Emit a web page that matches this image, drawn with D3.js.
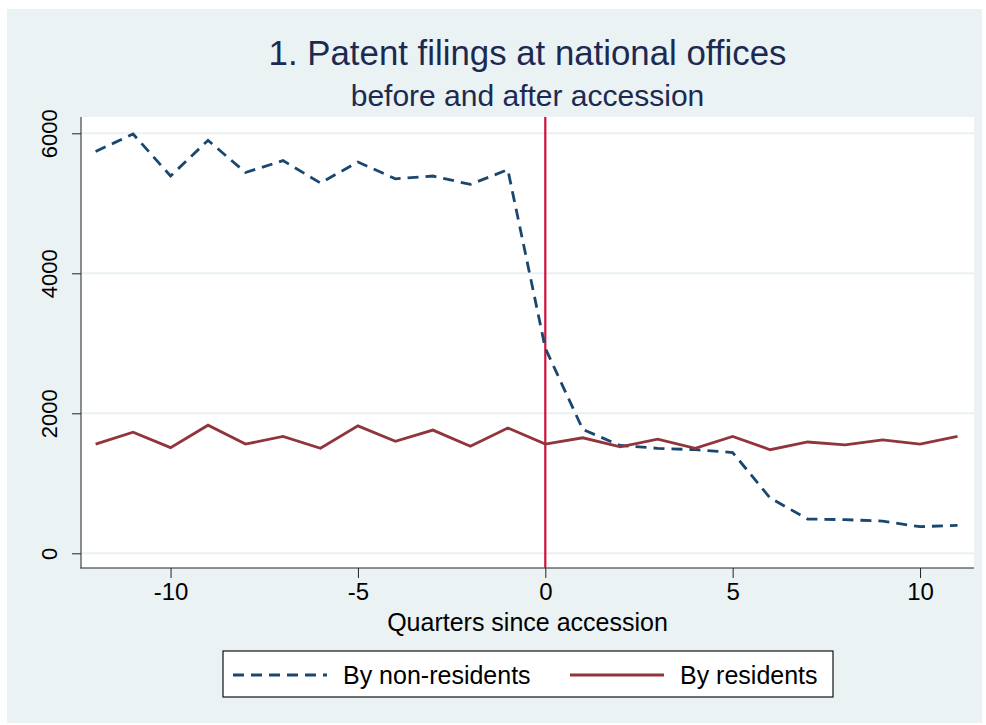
<!DOCTYPE html>
<html>
<head>
<meta charset="utf-8">
<script src="https://cdn.jsdelivr.net/npm/d3@7"></script>
<style>
  body { margin: 0; background: #fff; }
  text { font-family: "Liberation Sans", Arial, sans-serif; }
</style>
</head>
<body>
<script>
// quarters relative to accession
let quarters = [-12, -11, -10, -9, -8, -7, -6, -5, -4, -3, -2, -1, 0, 1, 2, 3, 4, 5, 6, 7, 8, 9, 10, 11];

// filings by non-residents (dashed)
let nonResidents = [5740, 5990, 5390, 5900, 5440, 5610, 5290, 5590, 5350, 5390, 5270, 5480,
                    2930, 1770, 1540, 1500, 1480, 1440, 790, 490, 480, 460, 380, 400];

// filings by residents (solid)
let residents = [1560, 1730, 1510, 1830, 1560, 1670, 1500, 1820, 1600, 1760, 1530, 1790,
                 1560, 1650, 1520, 1630, 1500, 1670, 1480, 1590, 1550, 1620, 1560, 1670];

let yTicks = [0, 2000, 4000, 6000];
let xTicks = [-10, -5, 0, 5, 10];
let seriesNames = ['By non-residents', 'By residents'];

let width = 986;
let height = 725;

let bg = '#eaf2f3';
let navy = '#1a476f';
let maroon = '#90353b';
let red = '#d0103a';

let plot = {left: 81, right: 974, top: 117, bottom: 568};

let x = d3.scaleLinear().domain([-12.39, 11.44]).range([plot.left, plot.right]);
let y = d3.scaleLinear().domain([-210, 6233]).range([plot.bottom, plot.top]);

let svg = d3.select('body')
    .append('svg')
    .attr('width', width)
    .attr('height', height);

// graph region
svg.append('rect')
    .attr('x', 7).attr('y', 9)
    .attr('width', 975).attr('height', 714)
    .attr('fill', bg);

// plot region
svg.append('rect')
    .attr('x', plot.left).attr('y', plot.top)
    .attr('width', plot.right - plot.left).attr('height', plot.bottom - plot.top)
    .attr('fill', '#fff');

// gridlines
svg.append('g')
  .selectAll('line')
    .data(yTicks)
  .enter().append('line')
    .attr('x1', plot.left).attr('x2', plot.right)
    .attr('y1', d => y(d)).attr('y2', d => y(d))
    .attr('stroke', bg)
    .attr('stroke-width', 2);

// y axis
let yAxis = svg.append('g')
    .attr('transform', `translate(${plot.left},0)`)
    .call(d3.axisLeft(y).tickValues(yTicks).tickSize(9).tickFormat(d => String(d)));
yAxis.select('.domain').attr('d', `M0,${plot.top}V${plot.bottom + 0.5}`).attr('stroke', '#222');
yAxis.selectAll('.tick line').attr('stroke', '#222');
yAxis.selectAll('.tick text')
    .attr('x', null).attr('dy', null)
    .attr('transform', 'translate(-24,0) rotate(-90)')
    .attr('text-anchor', 'middle')
    .attr('font-size', 22)
    .attr('fill', '#000');

// x axis (plain hyphen for negatives, like the original)
let xAxis = svg.append('g')
    .attr('transform', `translate(0,${plot.bottom})`)
    .call(d3.axisBottom(x).tickValues(xTicks).tickSize(10).tickPadding(5).tickFormat(d => String(d)));
xAxis.select('.domain').attr('d', `M${plot.left - 0.5},0H${plot.right}`).attr('stroke', '#222');
xAxis.selectAll('.tick line').attr('stroke', '#222');
xAxis.selectAll('.tick text')
    .attr('font-size', 24)
    .attr('fill', '#000');

// accession marker
svg.append('line')
    .attr('x1', x(0)).attr('x2', x(0))
    .attr('y1', plot.top).attr('y2', plot.bottom)
    .attr('stroke', red)
    .attr('stroke-width', 2.2);

let line = d3.line()
    .x((d, i) => x(quarters[i]))
    .y(d => y(d));

svg.append('path')
    .datum(nonResidents)
    .attr('d', line)
    .attr('fill', 'none')
    .attr('stroke', navy)
    .attr('stroke-width', 2.8)
    .attr('stroke-dasharray', '11,7');

svg.append('path')
    .datum(residents)
    .attr('d', line)
    .attr('fill', 'none')
    .attr('stroke', maroon)
    .attr('stroke-width', 2.8);

// titles
svg.append('text')
    .attr('x', (plot.left + plot.right) / 2).attr('y', 65)
    .attr('text-anchor', 'middle')
    .attr('font-size', 34.8)
    .attr('fill', '#1c2a52')
    .text('1. Patent filings at national offices');

svg.append('text')
    .attr('x', (plot.left + plot.right) / 2).attr('y', 106)
    .attr('text-anchor', 'middle')
    .attr('font-size', 30)
    .attr('fill', '#1c2a52')
    .text('before and after accession');

svg.append('text')
    .attr('x', (plot.left + plot.right) / 2).attr('y', 631)
    .attr('text-anchor', 'middle')
    .attr('font-size', 25)
    .attr('fill', '#000')
    .text('Quarters since accession');

// legend
let legend = svg.append('g');
legend.append('rect')
    .attr('x', 223).attr('y', 651)
    .attr('width', 610).attr('height', 46)
    .attr('fill', '#fff')
    .attr('stroke', '#111')
    .attr('stroke-width', 1.2);

let legendItems = [
  {name: seriesNames[0], color: navy, dash: '11,7', x0: 233},
  {name: seriesNames[1], color: maroon, dash: null, x0: 570}
];

legendItems.forEach(d => {
  legend.append('line')
      .attr('x1', d.x0).attr('x2', d.x0 + 94)
      .attr('y1', 675).attr('y2', 675)
      .attr('stroke', d.color)
      .attr('stroke-width', 2.8)
      .attr('stroke-dasharray', d.dash);
  legend.append('text')
      .attr('x', d.x0 + 110).attr('y', 684)
      .attr('font-size', 25)
      .attr('fill', '#000')
      .text(d.name);
});
</script>
</body>
</html>
